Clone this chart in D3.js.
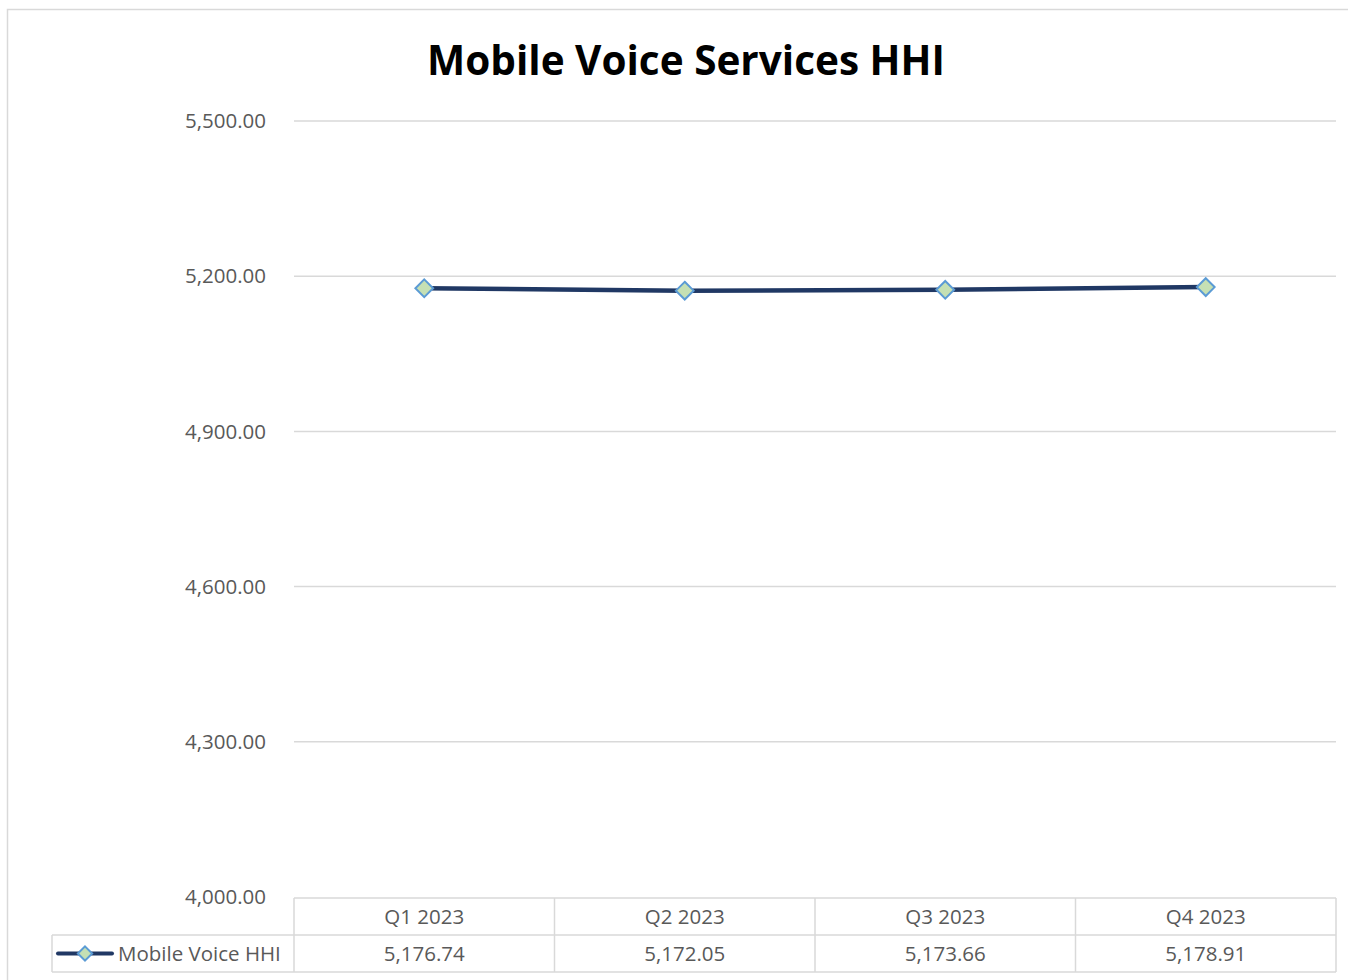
<!DOCTYPE html>
<html><head><meta charset="utf-8">
<script src="https://cdn.jsdelivr.net/npm/d3@7"></script>
<style>body{margin:0;background:#fff;} svg{display:block;}</style>
</head><body><svg id="c" width="1348" height="980"></svg>
<script>
const categories = ["Q1 2023", "Q2 2023", "Q3 2023", "Q4 2023"];
const seriesName = "Mobile Voice HHI";
const values = [5176.74, 5172.05, 5173.66, 5178.91];
const yTicks = [4000, 4300, 4600, 4900, 5200, 5500];
const title = "Mobile Voice Services HHI";

const svg = d3.select("#c");
const font = "'Open Sans', 'Noto Sans', sans-serif";
const L = 294, R = 1336, T = 121, B = 897;

// outer frame
svg.append("rect").attr("x", 7.5).attr("y", 9.5).attr("width", 1400).attr("height", 1000)
  .attr("fill", "#fff").attr("stroke", "#d9d9d9").attr("stroke-width", 1.5);

const x = d3.scaleBand().domain(categories).range([L, R]).padding(0);
const y = d3.scaleLinear().domain([4000, 5500]).range([B, T]);

// gridlines
svg.append("g").selectAll("line").data(yTicks.filter(d => d > 4000)).join("line")
  .attr("x1", L).attr("x2", R).attr("y1", d => y(d)).attr("y2", d => y(d))
  .attr("stroke", "#d9d9d9").attr("stroke-width", 1.5);

// y axis labels
const fmt = d3.format(",.2f");
svg.append("g").selectAll("text").data(yTicks).join("text")
  .attr("x", 266).attr("y", d => y(d)).attr("dy", "0.35em")
  .attr("text-anchor", "end").attr("font-family", font).attr("font-size", 20.5)
  .attr("fill", "#595959").text(d => fmt(d));

// title
svg.append("text").attr("x", 686).attr("y", 75).attr("text-anchor", "middle")
  .attr("font-family", font).attr("font-weight", "bold").attr("font-size", 40.5)
  .attr("fill", "#000").text(title);

// data table
const rowH = 37, r1 = B + 1, r2 = r1 + rowH, r3 = r2 + rowH;
const tg = svg.append("g").attr("stroke", "#d9d9d9").attr("stroke-width", 1.5);
tg.append("line").attr("x1", L).attr("x2", R).attr("y1", r1).attr("y2", r1);
tg.append("line").attr("x1", 52).attr("x2", R).attr("y1", r2).attr("y2", r2);
tg.append("line").attr("x1", 52).attr("x2", R).attr("y1", r3).attr("y2", r3);
tg.append("line").attr("x1", 52).attr("x2", 52).attr("y1", r2).attr("y2", r3);
const cols = categories.map(c => x(c)).concat([R]);
tg.selectAll("line.v").data(cols).join("line").attr("class", "v")
  .attr("x1", d => d).attr("x2", d => d).attr("y1", r1).attr("y2", r3);

svg.append("g").selectAll("text").data(categories).join("text")
  .attr("x", d => x(d) + x.bandwidth() / 2).attr("y", (r1 + r2) / 2).attr("dy", "0.35em")
  .attr("text-anchor", "middle").attr("font-family", font).attr("font-size", 20.5)
  .attr("fill", "#595959").text(d => d);
svg.append("g").selectAll("text").data(values).join("text")
  .attr("x", (d, i) => x(categories[i]) + x.bandwidth() / 2).attr("y", (r2 + r3) / 2).attr("dy", "0.35em")
  .attr("text-anchor", "middle").attr("font-family", font).attr("font-size", 20.5)
  .attr("fill", "#595959").text(d => fmt(d));

// legend key in table
const lineColor = "#203864";
const ly = (r2 + r3) / 2;
svg.append("line").attr("x1", 58).attr("x2", 112).attr("y1", ly).attr("y2", ly)
  .attr("stroke", lineColor).attr("stroke-width", 4).attr("stroke-linecap", "round");
const diamond = d3.symbol().type(d3.symbolDiamond2).size(130);
svg.append("path").attr("d", diamond()).attr("transform", `translate(85,${ly})`)
  .attr("fill", "#C5E0B4").attr("stroke", "#5B9BD5").attr("stroke-width", 2);
svg.append("text").attr("x", 118).attr("y", ly).attr("dy", "0.35em")
  .attr("font-family", font).attr("font-size", 20.5).attr("fill", "#595959").text(seriesName);

// line
const cx = c => x(c) + x.bandwidth() / 2;
svg.append("path").datum(values)
  .attr("d", d3.line().x((d, i) => cx(categories[i])).y(d => y(d)))
  .attr("fill", "none").attr("stroke", lineColor).attr("stroke-width", 4.5);

svg.append("g").selectAll("path").data(values).join("path")
  .attr("d", d3.symbol().type(d3.symbolDiamond2).size(200)())
  .attr("transform", (d, i) => `translate(${cx(categories[i])},${y(d)})`)
  .attr("fill", "#C5E0B4").attr("stroke", "#5B9BD5").attr("stroke-width", 2);
</script></body></html>
